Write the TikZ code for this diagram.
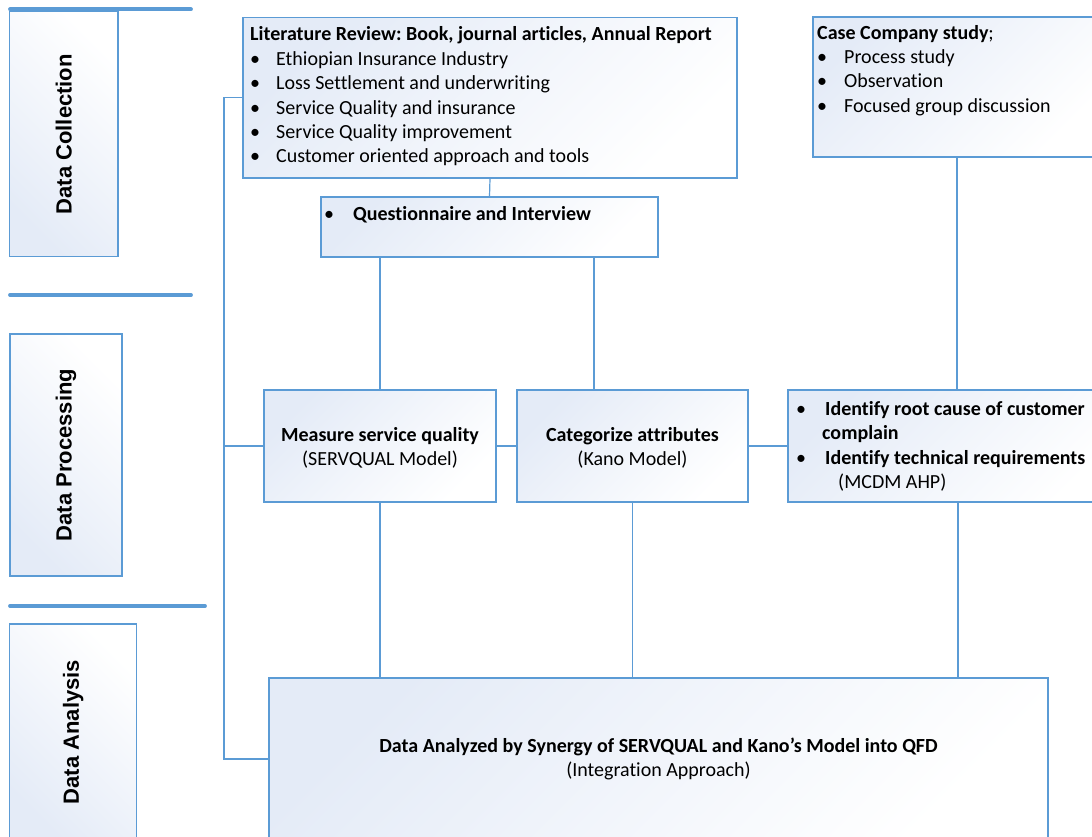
\documentclass[tikz,border=0pt]{standalone}
\usepackage{fontspec}
\setmainfont{Carlito}[Ligatures=NoCommon]
\newfontfamily\sidefont{Liberation Sans}
\usetikzlibrary{calc}
\frenchspacing
\definecolor{edge}{RGB}{91,155,213}
\definecolor{tint}{RGB}{228,235,247}
\tikzset{
  box/.style={draw=edge, line width=1.2pt, left color=tint, right color=white,
    shading angle=45, inner sep=0pt},
  sidebox/.style={box, shading angle=135},
  link/.style={draw=edge, line width=1.2pt},
  bar/.style={draw=edge, line width=3.8pt, line cap=round},
  body/.style={font=\fontsize{20}{24.4}\selectfont, inner sep=0pt, align=left, anchor=north west},
  mid/.style={body, align=center, anchor=north},
  side/.style={font=\sidefont\bfseries\fontsize{22}{26}\selectfont, rotate=90, inner sep=0pt},
}
\newcommand{\bul}[1][26pt]{\makebox[#1][l]{\textbullet}}
\begin{document}
\begin{tikzpicture}[x=1pt,y=-1pt]
\useasboundingbox (0,0) rectangle (1092,837);

% stage bars
\coordinate (b1a) at (10,9.3);  \coordinate (b1b) at (191,9.3);
\coordinate (b2a) at (10,295);  \coordinate (b2b) at (191,295);
\coordinate (b3a) at (10,606);  \coordinate (b3b) at (205,606);
\draw[bar] (b1a) -- (b1b);
\draw[bar] (b2a) -- (b2b);
\draw[bar] (b3a) -- (b3b);

% stage boxes
\node[sidebox, minimum width=108.5pt, minimum height=245pt] (dc) at (63.75,134.2) {};
\node[sidebox, minimum width=112pt, minimum height=242pt] (dp) at (66,455) {};
\node[sidebox, minimum width=127.2pt, minimum height=216pt] (da) at (73.1,732) {};
\node[side] (dct) at (dc) {Data Collection};
\node[side] (dpt) at (dp) {Data Processing};
\node[side] (dat) at (da) {Data Analysis};

% process boxes
\node[box, minimum width=494pt, minimum height=160.7pt] (lit) at (490,97.6) {};
\node[box, minimum width=337pt, minimum height=60pt] (quest) at (489.5,227) {};
\node[box, minimum width=288pt, minimum height=140pt] (case) at (957,87) {};
\node[box, minimum width=232pt, minimum height=112pt] (meas) at (380,446) {};
\node[box, minimum width=231pt, minimum height=112pt] (cat) at (632.5,446) {};
\node[box, minimum width=332pt, minimum height=112pt] (ident) at (954,446) {};
\node[box, minimum width=779pt, minimum height=162pt] (ana) at (658.5,759) {};

% connectors
\coordinate (brk) at (224,0);
\coordinate (qk) at (594,0);
\coordinate (ik) at (958,0);
\draw[link] (lit.west) -- (lit.west -| brk) -- (ana.west -| brk) -- (ana.west);
\draw[link] (meas.west) -- (meas.west -| brk);
\draw[link] (lit.south) -- (quest.north);
\draw[link] (case.south) -- (case.south |- ident.north);
\draw[link] (meas.north) -- (meas.north |- quest.south);
\draw[link] (qk |- quest.south) -- (qk |- cat.north);
\draw[link] (meas.east) -- (cat.west);
\draw[link] (cat.east) -- (ident.west);
\draw[link] (meas.south) -- (meas.south |- ana.north);
\draw[link] (cat.south) -- (cat.south |- ana.north);
\draw[link] (ik |- ident.south) -- (ik |- ana.north);

% texts
\node[body] (litt) at (250,23.6) {\strut\textbf{Literature Review: Book, journal articles, Annual Report}\\
  \bul Ethiopian Insurance Industry\\
  \bul Loss Settlement and underwriting\\
  \bul Service Quality and insurance\\
  \bul Service Quality improvement\\
  \bul Customer oriented approach and tools};
\node[body] (questt) at (324,203.6) {\strut\bul[29pt]\textbf{Questionnaire and Interview}};
\node[body] (caset) at (817,21.9) {\strut\textbf{Case Company study};\\
  \bul[27pt]Process study\\
  \bul[27pt]Observation\\
  \bul[27pt]Focused group discussion};
\node[mid] (meast) at (380,424) {\strut\textbf{Measure service quality}\\(SERVQUAL Model)};
\node[mid] (catt) at (632.5,424) {\strut\textbf{Categorize attributes}\\(Kano Model)};
\node[body] (identt) at (796,398) {\strut\bul\hspace{3pt}\textbf{Identify root cause of customer}\\
  \hspace*{26pt}\textbf{complain}\\
  \bul\hspace{3pt}\textbf{Identify technical requirements}\\
  \hspace*{42pt}(MCDM AHP)};
\node[mid] (anat) at (658.5,735) {\strut\textbf{Data Analyzed by Synergy of SERVQUAL and Kano’s Model into QFD}\\(Integration Approach)};
\end{tikzpicture}
\end{document}
